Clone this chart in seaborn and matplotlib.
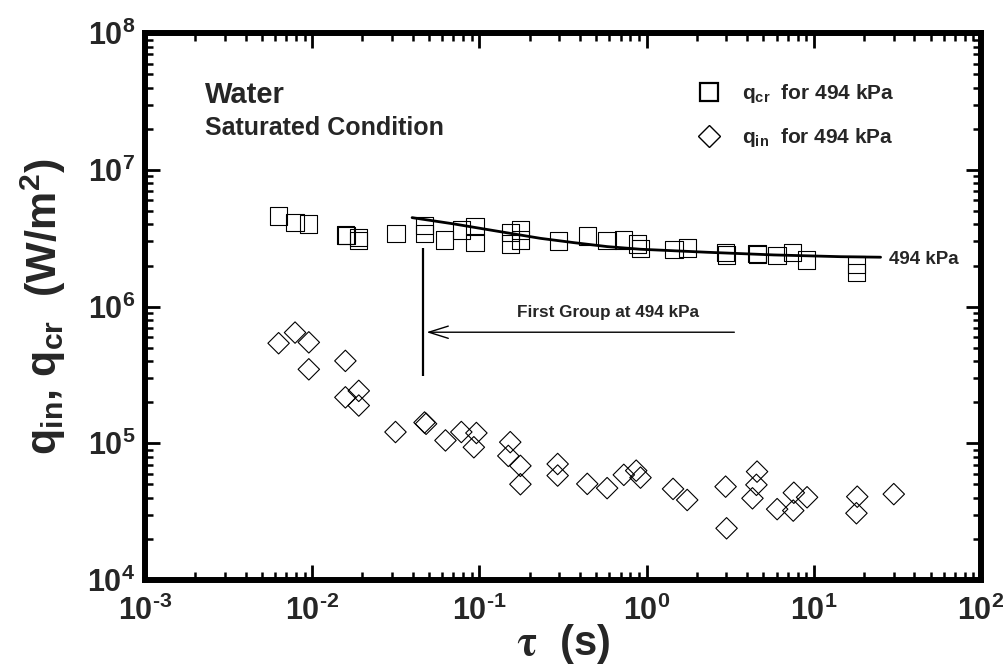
import numpy as np
import matplotlib
matplotlib.use("Agg")
import matplotlib.pyplot as plt
from matplotlib.ticker import FuncFormatter, LogLocator, NullFormatter
from matplotlib.lines import Line2D
import seaborn as sns

# ---- data ----
tau_cr = [0.0063, 0.0079, 0.00955, 0.0158, 0.016, 0.019, 0.019, 0.0318, 0.0471, 0.0471,
          0.062, 0.078, 0.094, 0.094, 0.153, 0.153, 0.176, 0.176, 0.298, 0.442,
          0.581, 0.731, 0.879, 0.92, 1.46, 1.75, 2.97, 3.02, 4.58, 4.6,
          6.04, 7.43, 9.04, 18.0, 18.0]
q_cr = [4.61e6, 4.14e6, 4.03e6, 3.34e6, 3.30e6, 3.20e6, 3.05e6, 3.42e6, 3.91e6, 3.42e6,
        3.07e6, 3.64e6, 3.85e6, 2.94e6, 3.50e6, 2.88e6, 3.64e6, 3.07e6, 3.03e6, 3.29e6,
        3.04e6, 3.07e6, 2.88e6, 2.67e6, 2.63e6, 2.69e6, 2.50e6, 2.39e6, 2.46e6, 2.40e6,
        2.36e6, 2.50e6, 2.20e6, 2.04e6, 1.77e6]

tau_in = [0.0063, 0.0079, 0.00955, 0.00955, 0.0158, 0.0158, 0.019, 0.019, 0.0315, 0.047,
          0.048, 0.0627, 0.078, 0.096, 0.0927, 0.153, 0.149, 0.176, 0.176, 0.294,
          0.294, 0.442, 0.581, 0.731, 0.867, 0.92, 1.44, 1.75, 2.97, 3.01,
          4.58, 4.54, 4.30, 6.04, 7.60, 7.54, 9.12, 18.2, 18.0, 30.1]
q_in = [5.40e5, 6.46e5, 5.48e5, 3.48e5, 4.01e5, 2.17e5, 2.42e5, 1.89e5, 1.21e5, 1.42e5,
        1.39e5, 1.05e5, 1.21e5, 1.19e5, 9.36e4, 1.02e5, 8.09e4, 6.84e4, 5.02e4, 7.06e4,
        5.81e4, 5.05e4, 4.70e4, 5.88e4, 6.31e4, 5.61e4, 4.64e4, 3.85e4, 4.82e4, 2.39e4,
        6.21e4, 4.97e4, 3.96e4, 3.30e4, 4.35e4, 3.22e4, 4.03e4, 4.07e4, 3.08e4, 4.25e4]

tau_fit = [0.0396, 0.0703, 0.122, 0.232, 0.367, 0.581, 0.92, 2.30, 5.77, 14.5, 25.1]
q_fit = [4.48e6, 4.03e6, 3.60e6, 3.16e6, 2.94e6, 2.75e6, 2.63e6, 2.50e6, 2.39e6, 2.32e6, 2.30e6]

group_tau = 0.0458
group_q_range = [3.11e5, 2.67e6]
arrow_from = (3.35, 6.5e5)
arrow_to = (0.0483, 6.5e5)

label_cr = r"$q_{cr}$  for 494 kPa"
label_in = r"$q_{in}$  for 494 kPa"

# ---- style ----
sns.set_style("ticks")
plt.rcParams["font.family"] = ["Liberation Sans", "DejaVu Sans"]
plt.rcParams["font.weight"] = "bold"
plt.rcParams["axes.unicode_minus"] = False
plt.rcParams["mathtext.fontset"] = "custom"
plt.rcParams["mathtext.rm"] = "Liberation Sans:bold"
plt.rcParams["mathtext.it"] = "Liberation Sans:bold"
plt.rcParams["mathtext.bf"] = "Liberation Sans:bold"
plt.rcParams["mathtext.sf"] = "Liberation Sans:bold"
plt.rcParams["mathtext.default"] = "rm"

fig, ax = plt.subplots(figsize=(10.06, 6.71), dpi=100)
fig.subplots_adjust(left=0.1441, right=0.9751, top=0.9504, bottom=0.1356)

sns.scatterplot(x=tau_cr, y=q_cr, marker="s", s=156, facecolor="none",
                edgecolor="black", linewidth=0.8, ax=ax, zorder=3)
sns.scatterplot(x=tau_in, y=q_in, marker="D", s=119, facecolor="none",
                edgecolor="black", linewidth=0.8, ax=ax, zorder=3)
sns.lineplot(x=tau_fit, y=q_fit, color="black", linewidth=2.0, ax=ax, zorder=4)

ax.set_xscale("log")
ax.set_yscale("log")
ax.set_xlim(1e-3, 1e2)
ax.set_ylim(1e4, 1e8)

ax.vlines(group_tau, group_q_range[0], group_q_range[1], color="black", linewidth=1.6)
ax.annotate("", xy=arrow_to, xytext=arrow_from,
            arrowprops=dict(arrowstyle="->,head_length=0.7,head_width=0.22",
                            color="black", lw=1.0, mutation_scale=20,
                            shrinkA=0, shrinkB=0))
ax.text(0.169, 8.41e5, "First Group at 494 kPa", fontsize=12.3, fontweight="bold",
        ha="left", va="baseline")
ax.text(28.0, 2.20e6, "494 kPa", fontsize=13.5, fontweight="bold", ha="left", va="center")

ax.text(0.0718, 0.8725, "Water", transform=ax.transAxes, fontsize=21,
        fontweight="bold", ha="left", va="baseline")
ax.text(0.0718, 0.814, "Saturated Condition", transform=ax.transAxes, fontsize=18,
        fontweight="bold", ha="left", va="baseline")

# legend
handles = [Line2D([], [], marker="s", ls="none", mfc="none", mec="black", ms=13, mew=1.6),
           Line2D([], [], marker="D", ls="none", mfc="none", mec="black", ms=11, mew=1.0)]
ax.legend(handles, [label_cr, label_in], loc="upper left", bbox_to_anchor=(0.662, 0.91),
          frameon=False, fontsize=15, handlelength=1.0, handletextpad=1.1,
          borderpad=0, borderaxespad=0, labelspacing=1.0)

# axes styling
for sp in ax.spines.values():
    sp.set_linewidth(4.3)
    sp.set_color("black")
    sp.set_visible(True)


def log_label(v, p):
    n = int(round(np.log10(v)))
    if n < 0:
        return "$10^{\u2010%d}$" % abs(n)
    return "$10^{%d}$" % n


fmt = FuncFormatter(log_label)
ax.xaxis.set_major_formatter(fmt)
ax.yaxis.set_major_formatter(fmt)
ax.xaxis.set_minor_formatter(NullFormatter())
ax.yaxis.set_minor_formatter(NullFormatter())
ax.xaxis.set_major_locator(LogLocator(base=10, numticks=10))
ax.yaxis.set_major_locator(LogLocator(base=10, numticks=10))
ax.xaxis.set_minor_locator(LogLocator(base=10, subs=np.arange(2, 10), numticks=20))
ax.yaxis.set_minor_locator(LogLocator(base=10, subs=np.arange(2, 10), numticks=20))

ax.tick_params(which="both", direction="in", top=True, right=True, color="black")
ax.tick_params(which="major", length=10.8, width=2.0, labelsize=22)
ax.tick_params(axis="x", which="major", pad=11)
ax.tick_params(axis="y", which="major", pad=7)
ax.tick_params(which="minor", length=5.8, width=1.8)

ax.set_xlabel(r"$\mathrm{\tau}$  (s)", fontsize=30, fontweight="bold",
              math_fontfamily="stix", labelpad=-3)
ax.set_ylabel(r"$q_{in}$, $q_{cr}$  (W/m$^2$)", fontsize=31, fontweight="bold",
              labelpad=14)

fig.savefig("out.png", dpi=100)
